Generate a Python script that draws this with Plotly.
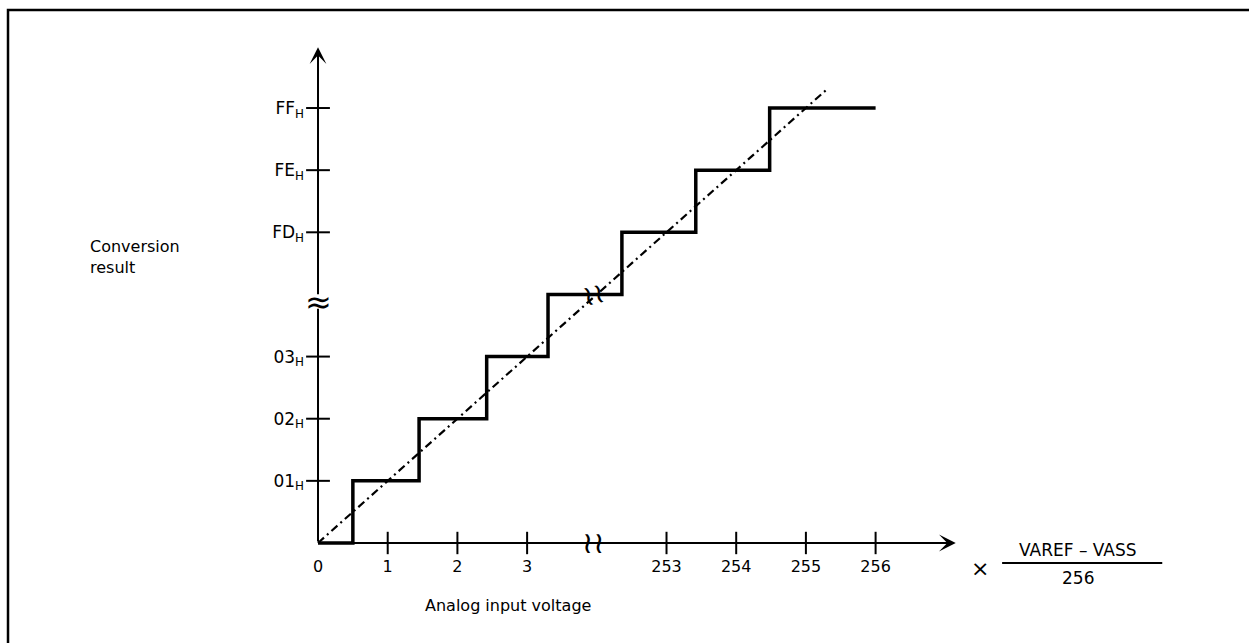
import plotly.graph_objects as go

# ---------------- data ----------------
x_tick_values = [0, 1, 2, 3, 253, 254, 255, 256]
x_tick_labels = ["0", "1", "2", "3", "253", "254", "255", "256"]
y_tick_codes = [1, 2, 3, 253, 254, 255]
y_tick_labels = ["01<sub>H</sub>", "02<sub>H</sub>", "03<sub>H</sub>",
                 "FD<sub>H</sub>", "FE<sub>H</sub>", "FF<sub>H</sub>"]
# staircase: input voltage (LSB) where each code begins, and the code
step_input = [0, 0.5, 1.45, 2.42, 3.3, 252.36, 253.42, 254.48, 256]
step_code = [0, 1, 2, 3, 252, 253, 254, 255, 255]
# ideal transfer line
ideal_input = [0, 255.3]
ideal_code = [0, 255.3]

# axis break: values from 252 up continue right after 4
BREAK_LO, BREAK_HI = 4, 252


def fold(v):
    return v if v <= BREAK_LO else v - (BREAK_HI - BREAK_LO)


def foldl(vals):
    return [fold(v) for v in vals]


FONT = "DejaVu Sans"
X_END = 9.15   # x-axis arrow tip
Y_END = 7.98   # y-axis arrow tip
Y_GAP = (3.77, 3.98)  # gap in the y-axis line at the break

fig = go.Figure()

# ideal line (dash-dot)
fig.add_trace(go.Scatter(
    x=foldl(ideal_input), y=foldl(ideal_code), mode="lines",
    line=dict(color="black", width=2.2, dash="8px,4px,2px,4px"),
    hoverinfo="skip", showlegend=False))

# staircase
fig.add_trace(go.Scatter(
    x=foldl(step_input), y=foldl(step_code), mode="lines",
    line=dict(color="black", width=3.5, shape="hv"),
    hoverinfo="skip", showlegend=False))

# tick marks crossing the axes
fig.add_trace(go.Scatter(
    x=foldl(x_tick_values[1:]), y=[0] * (len(x_tick_values) - 1), mode="markers",
    marker=dict(symbol="line-ns", size=16, line=dict(width=2, color="black")),
    cliponaxis=False, hoverinfo="skip", showlegend=False))
fig.add_trace(go.Scatter(
    x=[0] * len(y_tick_codes), y=foldl(y_tick_codes), mode="markers",
    marker=dict(symbol="line-ew", size=17, line=dict(width=2, color="black")),
    cliponaxis=False, hoverinfo="skip", showlegend=False))

arrow = dict(xref="x", yref="y", axref="x", ayref="y", text="", showarrow=True,
             arrowhead=3, arrowsize=1.4, arrowwidth=2, arrowcolor="black")

annotations = [
    # axes with arrow heads
    dict(arrow, x=X_END, y=0, ax=0, ay=0),
    dict(arrow, x=0, y=Y_END, ax=0, ay=Y_GAP[1]),
    dict(arrow, x=0, y=Y_GAP[0], ax=0, ay=0, arrowhead=0),
    # break marks
    dict(x=BREAK_LO - 0.05, y=0, xref="x", yref="y", text="≀≀", showarrow=False,
         font=dict(family=FONT, size=30, color="black")),
    dict(x=BREAK_LO - 0.05, y=BREAK_LO, xref="x", yref="y", text="≀≀", showarrow=False,
         textangle=-15, font=dict(family=FONT, size=28, color="black")),
    dict(x=0, y=(Y_GAP[0] + Y_GAP[1]) / 2, xref="x", yref="y", text="≈",
         showarrow=False, font=dict(family=FONT, size=32, color="black")),
    # labels
    dict(x=-0.3323, y=0.574, xref="paper", yref="paper", xanchor="left",
         yanchor="middle", align="left", text="Conversion<br>result",
         showarrow=False, font=dict(family=FONT, size=16, color="black")),
    dict(x=0.305, y=-0.105, xref="paper", yref="paper", xanchor="center",
         yanchor="middle", text="Analog input voltage", showarrow=False,
         font=dict(family=FONT, size=16, color="black")),
    dict(x=1.0215, y=-0.033, xref="paper", yref="paper", xanchor="center",
         yanchor="middle", text="×", showarrow=False,
         font=dict(family=FONT, size=22, color="black")),
    dict(x=1.170, y=0.004, xref="paper", yref="paper", xanchor="center",
         yanchor="middle", text="VAREF – VASS", showarrow=False,
         font=dict(family=FONT, size=17, color="black")),
    dict(x=1.170, y=-0.0506, xref="paper", yref="paper", xanchor="center",
         yanchor="middle", text="256", showarrow=False,
         font=dict(family=FONT, size=17, color="black")),
]

shapes = [
    # fraction bar
    dict(type="line", xref="paper", yref="paper", x0=1.0548, x1=1.2978,
         y0=-0.0214, y1=-0.0214, line=dict(color="black", width=2)),
    # outer frame
    dict(type="rect", xref="paper", yref="paper", x0=-0.4537, x1=1.45,
         y0=-0.25, y1=1.0545, line=dict(color="black", width=2.5)),
]

fig.update_layout(
    width=1249, height=643,
    margin=dict(l=307, r=283, t=38, b=91, pad=0),
    paper_bgcolor="white", plot_bgcolor="white",
    font=dict(family=FONT, size=16, color="black"),
    xaxis=dict(range=[-0.158, 9.297], showgrid=False, zeroline=False,
               showline=False, ticks="", tickmode="array",
               tickvals=foldl(x_tick_values), ticktext=x_tick_labels,
               ticklabelstandoff=3, fixedrange=True,
               tickfont=dict(family=FONT, size=16, color="black")),
    yaxis=dict(range=[-0.145, 8.127], showgrid=False, zeroline=False,
               showline=False, ticks="", tickmode="array",
               tickvals=foldl(y_tick_codes), ticktext=y_tick_labels,
               ticklabelstandoff=2, fixedrange=True,
               tickfont=dict(family=FONT, size=17, color="black")),
    annotations=annotations, shapes=shapes, showlegend=False,
)

fig.write_html("out.html", config={"displayModeBar": False},
               post_script="document.body.style.margin='0';")
